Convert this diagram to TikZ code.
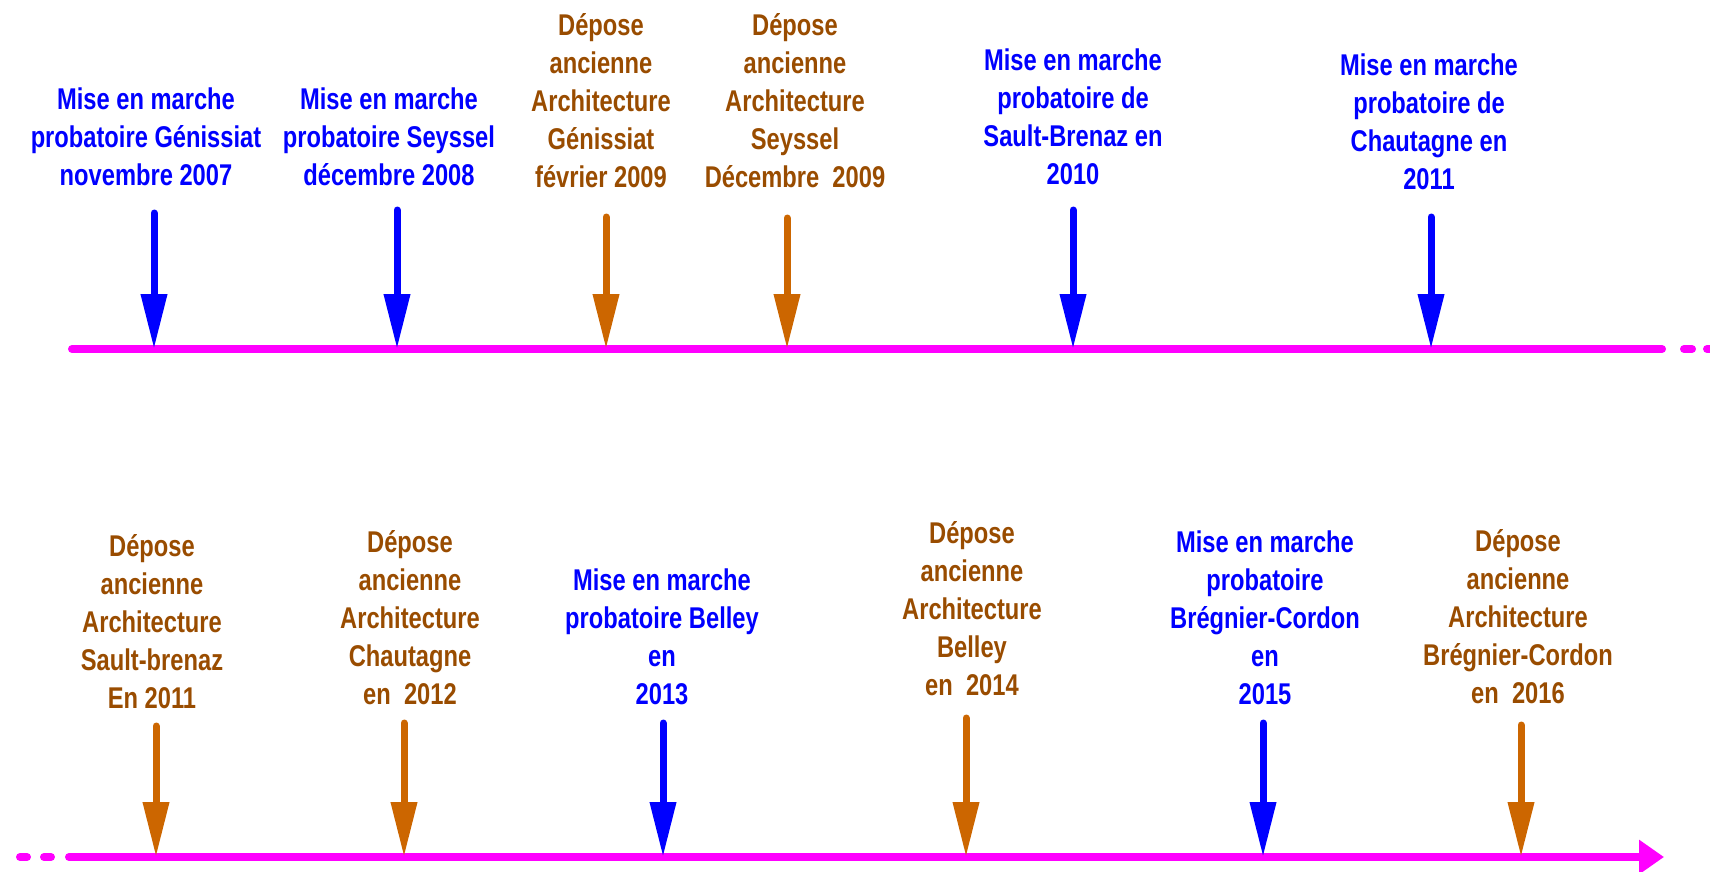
\documentclass[tikz,border=0pt]{standalone}
\usepackage{fontspec}
\setmainfont{Liberation Sans}[FakeStretch=0.79]
\usetikzlibrary{arrows.meta}
\definecolor{evblue}{RGB}{0,0,255}
\definecolor{evbrown}{RGB}{153,76,0}
\definecolor{evorange}{RGB}{204,102,0}
\definecolor{tlmag}{RGB}{255,0,255}
\begin{document}
\begin{tikzpicture}[x=1pt,y=-1pt,
  lbl/.style={font=\bfseries\fontsize{30}{38}\selectfont, align=center, inner sep=0pt, anchor=north},
  mise/.style={lbl, text=evblue},
  depose/.style={lbl, text=evbrown},
  evarr/.style={line width=7pt, line cap=round, -{Triangle[width=25pt,length=55pt]}},
  barr/.style={evarr, color=evblue},
  oarr/.style={evarr, color=evorange},
  tl/.style={draw=tlmag, line width=8pt, line cap=round}
]
\useasboundingbox (0,0) rectangle (1710,872);
\clip (0,0) rectangle (1710,872);

% ---------- top timeline ----------
\coordinate (L1s) at (72,349);
\coordinate (L1e) at (1662,349);
\coordinate (L1d1s) at (1684,349);
\coordinate (L1d1e) at (1692,349);
\coordinate (L1d2s) at (1707,349);
\coordinate (L1d2e) at (1716,349);
\draw[tl] (L1s) -- (L1e);
\draw[tl] (L1d1s) -- (L1d1e);
\draw[tl] (L1d2s) -- (L1d2e);

% ---------- bottom timeline ----------
\coordinate (L2d1s) at (20,857);
\coordinate (L2d1e) at (27,857);
\coordinate (L2d2s) at (44,857);
\coordinate (L2d2e) at (51,857);
\coordinate (L2s) at (69,857);
\coordinate (L2e) at (1664,857);
\draw[tl] (L2d1s) -- (L2d1e);
\draw[tl] (L2d2s) -- (L2d2e);
\draw[tl, -{Triangle[width=33pt,length=25pt]}] (L2s) -- (L2e);

% ---------- top labels ----------
\node[mise] (t1) at (146,88) {Mise en marche\\probatoire Génissiat\\novembre 2007};
\node[mise] (t2) at (389,88) {Mise en marche\\probatoire Seyssel\\décembre 2008};
\node[depose] (t3) at (601,13) {Dépose\\ancienne\\Architecture\\Génissiat\\février 2009};
\node[depose] (t4) at (795,13) {Dépose\\ancienne\\Architecture\\Seyssel\\Décembre~~2009};
\node[mise] (t5) at (1073,49) {Mise en marche\\probatoire de\\Sault-Brenaz en\\2010};
\node[mise] (t6) at (1429,54) {Mise en marche\\probatoire de\\Chautagne en\\2011};

% ---------- top arrows ----------
\coordinate (a1) at (154,213);  \coordinate (p1) at (154,349);
\coordinate (a2) at (397,210);  \coordinate (p2) at (397,349);
\coordinate (a3) at (606,217);  \coordinate (p3) at (606,349);
\coordinate (a4) at (787,218);  \coordinate (p4) at (787,349);
\coordinate (a5) at (1073,210); \coordinate (p5) at (1073,349);
\coordinate (a6) at (1431,217); \coordinate (p6) at (1431,349);
\draw[barr] (a1) -- (p1);
\draw[barr] (a2) -- (p2);
\draw[oarr] (a3) -- (p3);
\draw[oarr] (a4) -- (p4);
\draw[barr] (a5) -- (p5);
\draw[barr] (a6) -- (p6);

% ---------- bottom labels ----------
\node[depose] (b1) at (152,534) {Dépose\\ancienne\\Architecture\\Sault-brenaz\\En 2011};
\node[depose] (b2) at (410,530) {Dépose\\ancienne\\Architecture\\Chautagne\\en~~2012};
\node[mise] (b3) at (662,569) {Mise en marche\\probatoire Belley\\en\\2013};
\node[depose] (b4) at (972,521) {Dépose\\ancienne\\Architecture\\Belley\\en~~2014};
\node[mise] (b5) at (1265,531) {Mise en marche\\probatoire\\Brégnier-Cordon\\en\\2015};
\node[depose] (b6) at (1518,529) {Dépose\\ancienne\\Architecture\\Brégnier-Cordon\\en~~2016};

% ---------- bottom arrows ----------
\coordinate (c1) at (156,726);  \coordinate (q1) at (156,857);
\coordinate (c2) at (404,723);  \coordinate (q2) at (404,857);
\coordinate (c3) at (663,723);  \coordinate (q3) at (663,857);
\coordinate (c4) at (966,718);  \coordinate (q4) at (966,857);
\coordinate (c5) at (1263,723); \coordinate (q5) at (1263,857);
\coordinate (c6) at (1521,725); \coordinate (q6) at (1521,857);
\draw[oarr] (c1) -- (q1);
\draw[oarr] (c2) -- (q2);
\draw[barr] (c3) -- (q3);
\draw[oarr] (c4) -- (q4);
\draw[barr] (c5) -- (q5);
\draw[oarr] (c6) -- (q6);
\end{tikzpicture}
\end{document}
